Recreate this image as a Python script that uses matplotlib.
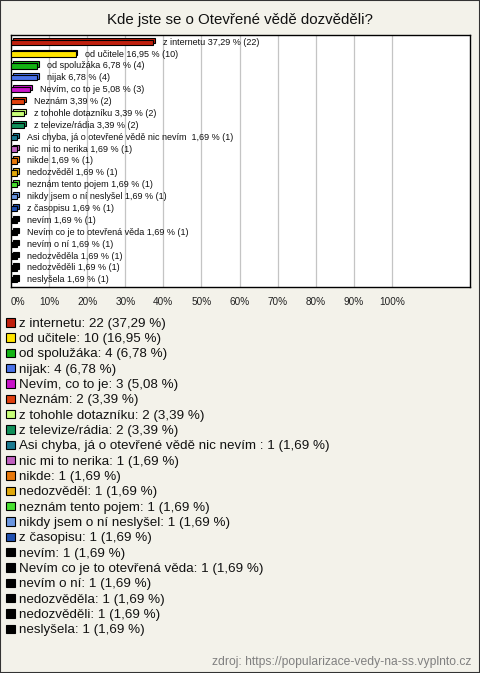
import matplotlib
matplotlib.use("Agg")
import matplotlib.pyplot as plt
from matplotlib.patches import Rectangle

categories = [
    "z internetu", "od učitele", "od spolužáka", "nijak", "Nevím, co to je",
    "Neznám", "z tohohle dotazníku", "z televize/rádia",
    "Asi chyba, já o otevřené vědě nic nevím ", "nic mi to nerika", "nikde",
    "nedozvěděl", "neznám tento pojem", "nikdy jsem o ní neslyšel", "z časopisu",
    "nevím", "Nevím co je to otevřená věda", "nevím o ní", "nedozvěděla",
    "nedozvěděli", "neslyšela",
]
counts = [22, 10, 4, 4, 3, 2, 2, 2, 1, 1, 1, 1, 1, 1, 1, 1, 1, 1, 1, 1, 1]
percents = [37.29, 16.95, 6.78, 6.78, 5.08, 3.39, 3.39, 3.39, 1.69, 1.69, 1.69,
            1.69, 1.69, 1.69, 1.69, 1.69, 1.69, 1.69, 1.69, 1.69, 1.69]
colors = ["#C0200E", "#FFE400", "#14B414", "#4A72E8", "#C814C8", "#E0400E",
          "#C8FF78", "#10905A", "#1A7A90", "#C060C0", "#E8780A", "#E0A80A",
          "#48E030", "#6A96E0", "#2050B0", "#000000", "#000000", "#000000",
          "#000000", "#000000", "#000000"]
x_ticks = [0, 10, 20, 30, 40, 50, 60, 70, 80, 90, 100]
title = "Kde jste se o Otevřené vědě dozvěděli?"
source = "zdroj: https://popularizace-vedy-na-ss.vyplnto.cz"

W, H = 480, 673
BG = "#F3F2EA"
fig = plt.figure(figsize=(W / 100, H / 100), dpi=100, facecolor=BG)

def fx(px):
    return px / W

def fy(py):
    return 1 - py / H

ax = fig.add_axes([fx(11), fy(287), fx(470) - fx(11), (287 - 35) / H])
ax.set_facecolor("white")
n = len(categories)
ax.set_xlim(0, 120.5)
ax.set_ylim(n - 0.5 + 0.1, -0.6)

for xt in x_ticks[1:]:
    ax.axvline(xt, color="#C4C4C4", lw=0.9, zorder=0)

def fmt(v):
    return f"{v:.2f}".replace(".", ",")

bh = 0.44
dx, dy = 0.45, 0.16
ys = list(range(n))
# back (depth) bars
ax.barh([y - dy for y in ys], percents, left=dx, height=bh, color=colors,
        edgecolor="black", linewidth=0.8, zorder=2)
# front bars
ax.barh(ys, percents, height=bh, color=colors, edgecolor="black",
        linewidth=0.8, zorder=3)
for y, cat, p, c in zip(ys, categories, percents, counts):
    ax.annotate(f"{cat} {fmt(p)} % ({c})", (p, y), xytext=(7, 0),
                textcoords="offset points", va="center", ha="left",
                fontsize=6.5, family="Liberation Sans", color="#111111", zorder=4)

ax.set_yticks([])
ax.set_xticks(x_ticks)
labels = ax.set_xticklabels([f"{t}%" for t in x_ticks], fontsize=7.2,
                            family="Liberation Sans", color="#222222")
labels[0].set_ha("left")
ax.tick_params(axis="x", length=0, pad=7)
for s in ax.spines.values():
    s.set_color("black")
    s.set_linewidth(1.0)

fig.text(0.5, fy(20), title, ha="center", va="center", fontsize=10.8,
         family="Liberation Sans", color="#111111")

# legend
y0, step = 322, 15.33
for i, (cat, c, p, col) in enumerate(zip(categories, counts, percents, colors)):
    yc = y0 + i * step
    fig.patches.append(Rectangle((fx(6), fy(yc + 4.5)), fx(8.5), 8.5 / H,
                                 transform=fig.transFigure, facecolor=col,
                                 edgecolor="black", linewidth=0.8))
    fig.text(fx(19), fy(yc + 4.8), f"{cat}: {c} ({fmt(p)} %)", ha="left",
             va="baseline", fontsize=9.6, family="Liberation Sans",
             color="#111111")

fig.text(fx(471), fy(662), source, ha="right", va="center", fontsize=8.7,
         family="Liberation Sans", color="#808080")

fig.patches.append(Rectangle((0, 0), 1, 1, transform=fig.transFigure,
                             facecolor="none", edgecolor="#333333", linewidth=1.5))

fig.savefig("out.png", dpi=100, facecolor=BG)
